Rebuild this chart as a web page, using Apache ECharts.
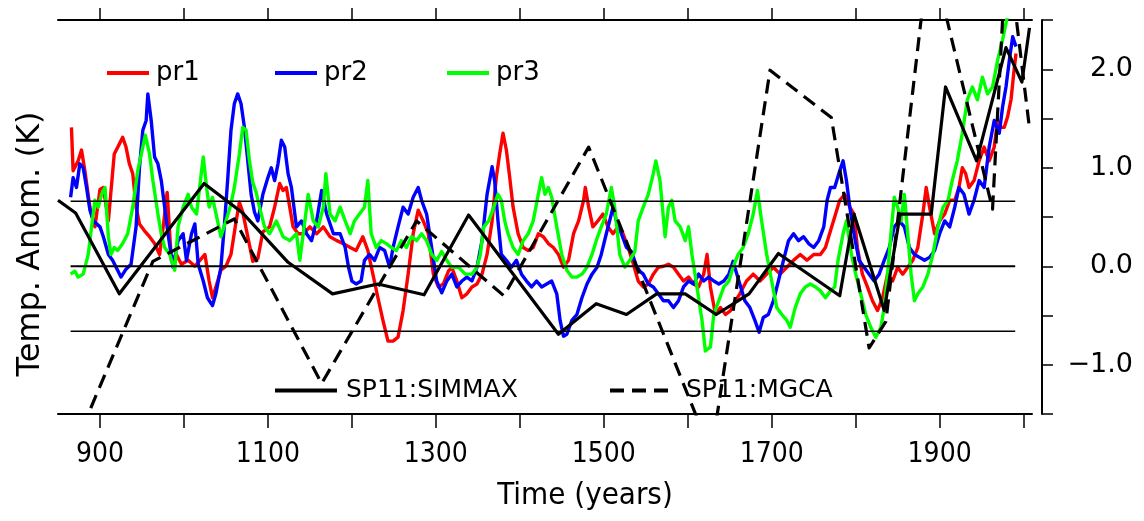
<!DOCTYPE html>
<html>
<head>
<meta charset="utf-8">
<script src="https://cdn.jsdelivr.net/npm/echarts/dist/echarts.min.js"></script>
<style>html,body{margin:0;padding:0;background:#fff;}#main{width:1144px;height:521px;}</style>
</head>
<body>
<div id="main"></div>
<script>
// ---------- data (year, anomaly K) ----------
const pr1 = [[866,1.41],[868,0.97],[874,1.07],[878,1.18],[882,0.97],[888,0.60],[894,0.40],[900,0.78],[904,0.80],[910,0.46],[917,1.14],[923,1.24],[927,1.31],[931,1.21],[935,1.04],[939,0.94],[943,0.60],[947,0.43],[953,0.36],[959,0.30],[965,0.23],[971,0.12],[976,0.45],[980,0.75],[985,0.06],[991,0.12],[997,0.02],[1005,0.06],[1013,0.0],[1019,0.06],[1025,0.12],[1030,-0.15],[1034,-0.32],[1038,-0.21],[1044,-0.04],[1050,0.0],[1056,0.12],[1062,0.45],[1066,0.65],[1070,0.55],[1076,0.30],[1082,0.05],[1088,0.08],[1094,0.35],[1102,0.40],[1108,0.60],[1114,0.84],[1118,0.77],[1122,0.80],[1126,0.60],[1130,0.40],[1136,0.33],[1142,0.33],[1150,0.40],[1158,0.33],[1166,0.40],[1174,0.30],[1182,0.26],[1190,0.23],[1198,0.19],[1205,0.16],[1213,0.30],[1219,0.16],[1225,-0.08],[1231,-0.32],[1237,-0.55],[1243,-0.76],[1249,-0.76],[1255,-0.72],[1261,-0.45],[1267,-0.08],[1273,0.33],[1279,0.57],[1285,0.46],[1291,0.33],[1297,-0.08],[1303,-0.21],[1309,-0.18],[1315,-0.05],[1319,-0.01],[1325,-0.15],[1331,-0.32],[1337,-0.28],[1343,-0.21],[1349,-0.18],[1355,-0.08],[1361,0.12],[1367,0.46],[1372,0.90],[1376,1.14],[1380,1.35],[1384,1.18],[1388,0.90],[1392,0.60],[1398,0.33],[1404,0.19],[1410,0.16],[1416,0.19],[1422,0.33],[1428,0.30],[1434,0.23],[1440,0.19],[1446,0.12],[1452,-0.01],[1458,0.06],[1464,0.33],[1470,0.46],[1476,0.67],[1478,0.80],[1482,0.60],[1487,0.40],[1493,0.46],[1499,0.53],[1505,0.40],[1511,0.33],[1517,0.40],[1523,0.33],[1529,0.19],[1535,0.03],[1541,-0.15],[1547,-0.21],[1553,-0.18],[1559,-0.08],[1565,-0.01],[1571,0.0],[1577,0.02],[1583,-0.01],[1589,-0.08],[1595,-0.15],[1601,-0.11],[1607,-0.18],[1613,-0.21],[1619,-0.08],[1623,0.12],[1627,-0.21],[1633,-0.49],[1639,-0.42],[1645,-0.49],[1651,-0.45],[1657,-0.35],[1662,-0.28],[1670,-0.15],[1678,-0.08],[1686,-0.15],[1694,-0.08],[1702,-0.01],[1710,-0.08],[1718,-0.01],[1726,0.06],[1734,0.12],[1742,0.06],[1750,0.12],[1758,0.12],[1764,0.19],[1770,0.36],[1775,0.50],[1781,0.67],[1787,0.73],[1793,0.60],[1798,0.53],[1802,0.19],[1808,-0.08],[1814,-0.21],[1820,-0.35],[1826,-0.45],[1832,-0.32],[1838,-0.08],[1844,-0.15],[1850,-0.01],[1856,-0.08],[1862,-0.01],[1868,0.06],[1874,0.19],[1880,0.53],[1884,0.80],[1888,0.60],[1894,0.33],[1900,0.46],[1906,0.53],[1912,0.67],[1918,0.67],[1923,0.80],[1927,1.0],[1931,0.94],[1935,0.80],[1941,0.87],[1947,1.07],[1953,1.21],[1959,1.07],[1965,1.21],[1969,1.48],[1973,1.41],[1977,1.41],[1981,1.52],[1985,1.69],[1989,2.02],[1991,2.16]];

const pr2 = [[865,0.70],[868,0.90],[872,0.80],[876,1.04],[880,1.0],[884,0.80],[888,0.57],[892,0.46],[896,0.43],[900,0.40],[904,0.30],[910,0.12],[915,0.06],[921,-0.04],[925,-0.11],[931,-0.03],[937,0.02],[943,0.40],[947,1.0],[951,1.38],[955,1.48],[957,1.75],[961,1.48],[965,1.11],[969,1.04],[973,0.87],[977,0.60],[981,0.33],[987,-0.01],[993,0.26],[999,0.33],[1003,0.06],[1009,0.33],[1013,0.43],[1017,0.02],[1023,-0.15],[1028,-0.32],[1034,-0.40],[1038,-0.28],[1044,-0.01],[1048,0.40],[1052,0.87],[1056,1.38],[1060,1.65],[1064,1.75],[1068,1.65],[1072,1.41],[1076,1.07],[1080,0.73],[1084,0.55],[1088,0.46],[1094,0.73],[1100,0.90],[1104,1.0],[1108,0.87],[1112,1.04],[1116,1.28],[1120,1.21],[1124,0.94],[1128,0.80],[1134,0.40],[1140,0.46],[1146,0.33],[1152,0.26],[1158,0.46],[1164,0.77],[1170,0.53],[1178,0.33],[1186,0.33],[1192,0.19],[1196,-0.01],[1200,-0.15],[1205,-0.18],[1211,-0.15],[1215,0.06],[1221,0.12],[1227,0.06],[1233,0.19],[1239,0.16],[1245,-0.01],[1249,0.19],[1255,0.40],[1261,0.60],[1267,0.53],[1273,0.70],[1279,0.80],[1283,0.67],[1289,0.53],[1295,0.19],[1301,-0.15],[1307,-0.27],[1313,-0.15],[1319,-0.08],[1325,-0.21],[1331,-0.15],[1337,-0.11],[1343,-0.15],[1349,-0.01],[1355,0.26],[1361,0.73],[1367,1.01],[1370,0.87],[1374,0.46],[1378,0.12],[1384,0.06],[1390,-0.01],[1396,0.06],[1402,-0.08],[1408,-0.15],[1414,-0.21],[1420,-0.15],[1426,-0.21],[1432,-0.18],[1438,-0.15],[1444,-0.28],[1448,-0.55],[1452,-0.71],[1456,-0.69],[1462,-0.55],[1468,-0.49],[1474,-0.32],[1480,-0.18],[1486,-0.08],[1492,-0.01],[1497,0.12],[1503,0.33],[1507,0.46],[1511,0.60],[1515,0.46],[1521,0.33],[1527,0.19],[1533,0.15],[1539,0.0],[1543,-0.05],[1547,-0.08],[1553,-0.18],[1559,-0.21],[1565,-0.28],[1571,-0.35],[1577,-0.35],[1583,-0.42],[1589,-0.35],[1595,-0.21],[1601,-0.15],[1607,-0.18],[1613,-0.08],[1619,-0.15],[1625,-0.11],[1631,-0.15],[1637,-0.18],[1643,-0.15],[1649,-0.08],[1654,0.05],[1656,-0.01],[1662,-0.18],[1668,-0.35],[1674,-0.42],[1680,-0.55],[1685,-0.67],[1690,-0.52],[1696,-0.49],[1702,-0.35],[1708,-0.15],[1714,0.06],[1720,0.26],[1726,0.33],[1732,0.26],[1738,0.30],[1744,0.23],[1750,0.19],[1756,0.26],[1762,0.40],[1766,0.67],[1770,0.80],[1775,0.80],[1781,0.97],[1785,1.07],[1789,0.87],[1793,0.60],[1798,0.33],[1804,0.06],[1810,-0.01],[1816,-0.08],[1822,-0.15],[1828,-0.08],[1834,0.06],[1840,0.19],[1846,0.40],[1852,0.46],[1858,0.40],[1864,0.19],[1870,0.12],[1876,0.09],[1882,0.06],[1888,0.09],[1894,0.16],[1900,0.33],[1906,0.46],[1912,0.40],[1918,0.60],[1923,0.80],[1929,0.73],[1935,0.53],[1941,0.67],[1947,0.87],[1953,0.80],[1959,1.21],[1965,1.48],[1971,1.35],[1975,1.62],[1979,1.82],[1983,2.09],[1987,2.33],[1991,2.23]];

const pr3 = [[865,-0.08],[870,-0.05],[874,-0.11],[880,-0.08],[886,0.12],[890,0.40],[894,0.67],[898,0.60],[902,0.73],[906,0.80],[910,0.30],[913,0.12],[917,0.19],[921,0.16],[927,0.23],[933,0.33],[939,0.60],[945,0.97],[951,1.21],[954,1.33],[959,1.14],[963,0.87],[969,0.53],[973,0.33],[977,0.19],[983,0.12],[989,-0.04],[993,0.40],[999,0.60],[1005,0.73],[1009,0.60],[1015,0.53],[1021,0.97],[1023,1.11],[1027,0.80],[1030,0.60],[1034,0.70],[1040,0.46],[1044,0.30],[1050,0.46],[1056,0.63],[1060,0.80],[1066,1.14],[1070,1.41],[1074,1.38],[1078,1.07],[1082,0.85],[1086,0.75],[1090,0.60],[1096,0.40],[1102,0.33],[1110,0.46],[1118,0.30],[1126,0.26],[1134,0.33],[1138,0.06],[1144,0.46],[1148,0.73],[1154,0.46],[1160,0.40],[1166,0.60],[1169,0.94],[1174,0.53],[1180,0.46],[1186,0.60],[1192,0.46],[1198,0.33],[1203,0.46],[1209,0.53],[1215,0.60],[1219,0.87],[1223,0.33],[1229,0.19],[1235,0.26],[1241,0.23],[1247,0.19],[1253,0.16],[1259,0.26],[1265,0.19],[1271,0.30],[1277,0.26],[1283,0.33],[1289,0.26],[1295,0.12],[1301,0.06],[1307,0.15],[1313,0.06],[1319,-0.01],[1327,-0.01],[1335,-0.08],[1343,-0.08],[1349,-0.01],[1353,0.12],[1357,0.40],[1363,0.46],[1369,0.60],[1374,0.73],[1378,0.67],[1382,0.46],[1386,0.33],[1392,0.19],[1398,0.12],[1404,0.26],[1410,0.33],[1416,0.46],[1422,0.73],[1426,0.90],[1430,0.73],[1434,0.80],[1438,0.70],[1444,0.40],[1450,0.12],[1456,-0.04],[1462,-0.11],[1468,-0.11],[1474,-0.08],[1480,-0.01],[1486,0.12],[1491,0.26],[1497,0.40],[1503,0.53],[1509,0.80],[1513,0.60],[1519,0.12],[1525,-0.01],[1531,0.06],[1537,0.15],[1541,0.46],[1547,0.60],[1553,0.73],[1559,0.94],[1562,1.07],[1567,0.87],[1573,0.30],[1577,0.60],[1581,0.67],[1585,0.46],[1591,0.40],[1597,0.26],[1601,0.40],[1605,0.12],[1611,-0.21],[1617,-0.55],[1621,-0.86],[1627,-0.82],[1631,-0.49],[1637,-0.35],[1643,-0.21],[1649,-0.15],[1654,-0.01],[1660,0.12],[1666,0.19],[1672,0.33],[1678,0.53],[1683,0.77],[1688,0.46],[1694,0.12],[1700,-0.15],[1706,-0.42],[1712,-0.49],[1718,-0.55],[1722,-0.62],[1728,-0.42],[1734,-0.28],[1740,-0.21],[1746,-0.18],[1752,-0.21],[1758,-0.25],[1764,-0.32],[1770,-0.25],[1775,-0.21],[1779,0.06],[1785,0.33],[1789,0.46],[1795,0.12],[1800,-0.08],[1806,-0.28],[1812,-0.49],[1818,-0.62],[1824,-0.72],[1830,-0.62],[1834,-0.42],[1838,-0.08],[1842,0.33],[1846,0.70],[1850,0.60],[1854,0.46],[1858,0.73],[1862,0.33],[1866,-0.08],[1870,-0.35],[1874,-0.28],[1880,-0.21],[1886,-0.08],[1892,0.12],[1898,0.40],[1904,0.60],[1910,0.67],[1915,0.87],[1921,1.07],[1927,1.35],[1933,1.69],[1939,1.82],[1945,1.69],[1951,1.92],[1957,1.75],[1963,1.82],[1969,2.09],[1975,2.30],[1981,2.55],[1986,2.6]];

const simmax = [[850,0.67],[871,0.54],[923,-0.28],[1024,0.84],[1070,0.54],[1124,0.04],[1177,-0.28],[1231,-0.18],[1286,-0.29],[1339,0.52],[1446,-0.69],[1491,-0.38],[1527,-0.49],[1563,-0.28],[1597,-0.28],[1634,-0.49],[1673,-0.28],[1708,0.13],[1781,-0.30],[1798,0.53],[1834,-0.45],[1853,0.53],[1890,0.53],[1907,1.82],[1944,1.07],[1979,2.22],[1998,1.87],[2007,2.42]];

const mgca = [[889,-1.44],[963,0.05],[1060,0.48],[1164,-1.19],[1277,0.46],[1381,-0.30],[1482,1.21],[1628,-1.9],[1698,1.99],[1771,1.51],[1816,-0.83],[1836,-0.56],[1888,3.24],[1963,0.58],[1980,3.31],[2007,1.40]];

const refLevels = [-0.66, 0, 0.66];
const refSpan = [865, 1990];

const xTickYears = [900,1000,1100,1200,1300,1400,1500,1600,1700,1800,1900,2000];
const xLabelYears = [900,1100,1300,1500,1700,1900];
const yLabelValues = [-1, 0, 1, 2];

// ---------- chart ----------
const SANS = "'DejaVu Sans', sans-serif";
const NARROW = "'Liberation Sans Narrow', 'DejaVu Sans Condensed', sans-serif";

const chart = echarts.init(document.getElementById('main'), null, {renderer: 'canvas'});

function lineSeries(name, data, color, width, dash, z) {
  return {
    name: name, type: 'line', data: data, symbol: 'none', showSymbol: false,
    clip: true, silent: true, z: z,
    lineStyle: {color: color, width: width, type: dash || 'solid', join: 'round', cap: 'butt'},
    itemStyle: {color: color}
  };
}

const series = [
  lineSeries('pr1', pr1, '#ff0000', 3.4, null, 2),
  lineSeries('pr2', pr2, '#0000ff', 3.4, null, 3),
  lineSeries('pr3', pr3, '#00ff00', 3.4, null, 4)
];
refLevels.forEach(function (lv) {
  series.push(lineSeries('ref' + lv, [[refSpan[0], lv], [refSpan[1], lv]], '#000', lv === 0 ? 2.2 : 1.4, null, 5));
});
series.push(lineSeries('SP11:MGCA', mgca, '#000', 3.2, [14, 8], 6));
series.push(lineSeries('SP11:SIMMAX', simmax, '#000', 3.2, null, 7));

const legendBase = {
  orient: 'horizontal', itemHeight: 4, selectedMode: false,
  lineStyle: {width: 4},
  textStyle: {fontFamily: SANS, fontSize: 26, color: '#000', padding: [0, 0, 0, 0]}
};

const option = {
  animation: false,
  backgroundColor: '#fff',
  grid: {left: 58, right: 112, top: 20, bottom: 107},
  legend: [
    Object.assign({}, legendBase, {data: ['pr1'], left: 100, top: 55, itemWidth: 42,
      textStyle: Object.assign({}, legendBase.textStyle, {padding: [0, 0, 0, 2]})}),
    Object.assign({}, legendBase, {data: ['pr2'], left: 268, top: 55, itemWidth: 42,
      textStyle: Object.assign({}, legendBase.textStyle, {padding: [0, 0, 0, 2]})}),
    Object.assign({}, legendBase, {data: ['pr3'], left: 440, top: 55, itemWidth: 42,
      textStyle: Object.assign({}, legendBase.textStyle, {padding: [0, 0, 0, 2]})}),
    Object.assign({}, legendBase, {data: ['SP11:SIMMAX'], left: 268, top: 373, itemWidth: 62,
      textStyle: Object.assign({}, legendBase.textStyle, {fontSize: 25, padding: [0, 0, 0, 4]})}),
    Object.assign({}, legendBase, {data: ['SP11:MGCA'], left: 603, top: 373, itemWidth: 62,
      textStyle: Object.assign({}, legendBase.textStyle, {fontSize: 25, padding: [0, 0, 0, 9]})})
  ],
  xAxis: [
    {
      type: 'value', min: 850, max: 2010, position: 'bottom',
      axisLine: {show: true, onZero: false, lineStyle: {color: '#000', width: 2}},
      axisTick: {show: true, inside: false, length: 14, customValues: xTickYears, lineStyle: {color: '#000', width: 1.5}},
      axisLabel: {show: true, customValues: xLabelYears, margin: 27, color: '#000', fontSize: 28, fontFamily: NARROW,
        formatter: function (v) { return String(v); }},
      splitLine: {show: false}
    },
    {
      type: 'value', min: 850, max: 2010, position: 'top',
      axisLine: {show: true, onZero: false, lineStyle: {color: '#000', width: 2}},
      axisTick: {show: true, inside: false, length: 12, customValues: xTickYears, lineStyle: {color: '#000', width: 1.5}},
      axisLabel: {show: false},
      splitLine: {show: false}
    }
  ],
  yAxis: [
    {
      type: 'value', min: -1.5, max: 2.5, interval: 0.5, position: 'right', offset: 10,
      axisLine: {show: true, onZero: false, lineStyle: {color: '#000', width: 2}},
      axisTick: {show: true, inside: false, length: 11, lineStyle: {color: '#000', width: 1.5}},
      axisLabel: {
        show: true, customValues: yLabelValues, align: 'right', margin: 91,
        color: '#000', fontSize: 27, fontFamily: SANS,
        formatter: function (v) { return (v < 0 ? '\u2212' : '') + Math.abs(v).toFixed(1); }
      },
      splitLine: {show: false}
    }
  ],
  graphic: [
    {type: 'text', x: 31, y: 244, rotation: Math.PI / 2, silent: true,
      style: {text: 'Temp. Anom. (K)', font: "32px 'DejaVu Sans', sans-serif", fill: '#000', align: 'center', verticalAlign: 'middle'}},
    {type: 'text', x: 585, y: 496, silent: true,
      style: {text: 'Time (years)', font: "31px 'Liberation Sans Narrow', 'DejaVu Sans Condensed', sans-serif", fill: '#000', align: 'center', verticalAlign: 'middle'}}
  ],
  series: series
};
chart.setOption(option);
</script>
</body>
</html>
